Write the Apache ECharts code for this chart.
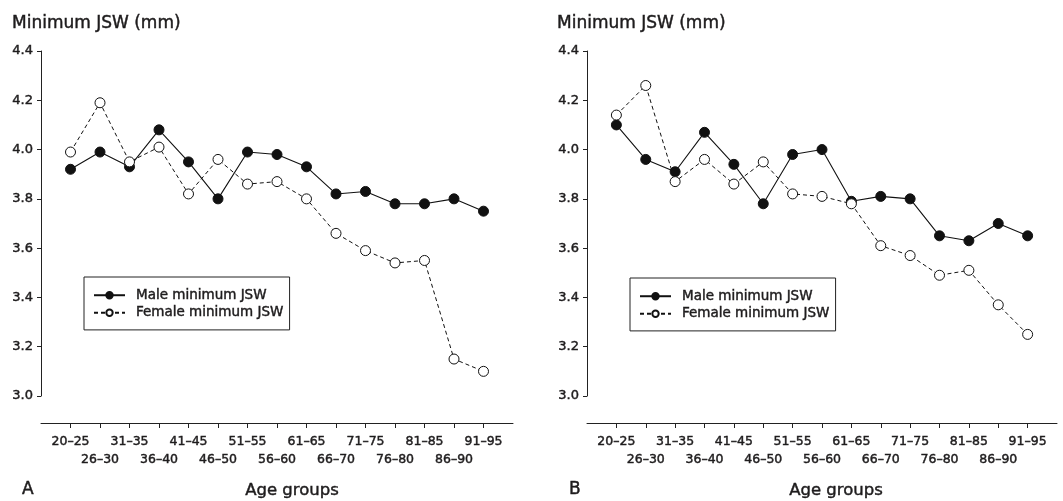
<!DOCTYPE html>
<html>
<head>
<meta charset="utf-8">
<script src="https://cdn.jsdelivr.net/npm/echarts@6/dist/echarts.min.js"></script>
<style>
html,body{margin:0;padding:0;background:#fff;}
#c{width:1063px;height:501px;}
</style>
</head>
<body>
<div id="c"></div>
<script>
// ---- data ----
const ageGroups = ['20–25','26–30','31–35','36–40','41–45','46–50','51–55','56–60','61–65','66–70','71–75','76–80','81–85','86–90','91–95'];
const maleA   = [3.92,3.99,3.93,4.08,3.95,3.80,3.99,3.98,3.93,3.82,3.83,3.78,3.78,3.80,3.75];
const femaleA = [3.99,4.19,3.95,4.01,3.82,3.96,3.86,3.87,3.80,3.66,3.59,3.54,3.55,3.15,3.10];
const maleB   = [4.10,3.96,3.91,4.07,3.94,3.78,3.98,4.00,3.79,3.81,3.80,3.65,3.63,3.70,3.65];
const femaleB = [4.14,4.26,3.87,3.96,3.86,3.95,3.82,3.81,3.78,3.61,3.57,3.49,3.51,3.37,3.25];
const yTicks = [3.0, 4.4, 0.2]; // min, max, step
const yTitle = 'Minimum JSW (mm)';
const xTitle = 'Age groups';
const panelLabels = ['A','B'];
const seriesNames = ['Male minimum JSW','Female minimum JSW'];

// ---- build ----
const FONT = 'DejaVu Sans';
const TXT = '#1e1c1d';
const TB = {textBorderColor:TXT, textBorderWidth:0.45};
const cats = [''].concat(ageGroups, ['']);
const pad = arr => [null].concat(arr, [null]);

function xAxisFor(i){
  return {
    type:'category', gridIndex:i, data:cats, boundaryGap:false, offset:27,
    axisLine:{show:true, lineStyle:{color:'#222', width:1}},
    axisTick:{show:true, length:5, lineStyle:{color:'#222'},
      interval:(idx)=> idx>0 && idx<cats.length-1},
    axisLabel:Object.assign({interval:0, margin:10, fontFamily:FONT, fontSize:12.5, color:TXT, lineHeight:18,
      formatter:(v,idx)=> (idx%2===1 ? v : '\n'+v)}, TB),
    splitLine:{show:false}
  };
}
function yAxisFor(i){
  return {
    type:'value', gridIndex:i, min:yTicks[0], max:yTicks[1], interval:yTicks[2],
    axisLine:{show:true, lineStyle:{color:'#222', width:1}},
    axisTick:{show:true, length:4, lineStyle:{color:'#222'}},
    axisLabel:Object.assign({margin:8, fontFamily:FONT, fontSize:13, color:TXT, formatter:v=>v.toFixed(1)}, TB),
    splitLine:{show:false}
  };
}
function maleSeries(i,data){
  return {name:seriesNames[0], type:'line', xAxisIndex:i, yAxisIndex:i, data:pad(data),
    symbol:'circle', symbolSize:10, z:2,
    lineStyle:{color:'#111', width:1.1, type:'solid'},
    itemStyle:{color:'#111', borderColor:'#111', borderWidth:1}};
}
function femaleSeries(i,data){
  return {name:seriesNames[1], type:'line', xAxisIndex:i, yAxisIndex:i, data:pad(data),
    symbol:'circle', symbolSize:10, z:3,
    lineStyle:{color:'#111', width:1, type:[4,3]},
    itemStyle:{color:'#fff', borderColor:'#111', borderWidth:1}};
}
function legendFor(left,top){
  return {data:seriesNames, orient:'vertical', left:left, top:top, padding:[11,6,10,9], itemGap:3,
    itemWidth:31, itemHeight:8, borderColor:'#222', borderWidth:1, selectedMode:false,
    textStyle:Object.assign({fontFamily:FONT, fontSize:13.5, color:TXT, lineHeight:14, padding:[0,0,0,6]}, TB)};
}
function txt(text,x,y,size,align){
  return {type:'text', x:x, y:y, style:{text:text, font:'normal '+size+'px "'+FONT+'"', fill:TXT,
    stroke:TXT, lineWidth:0.45,
    textAlign:align||'left', textVerticalAlign:'middle'}};
}

const option = {
  animation:false,
  backgroundColor:'#fff',
  grid:[
    {left:41, top:51, width:472, height:345},
    {left:587, top:51, width:470, height:345}
  ],
  xAxis:[xAxisFor(0), xAxisFor(1)],
  yAxis:[yAxisFor(0), yAxisFor(1)],
  legend:[legendFor(84,277), legendFor(630,278)],
  series:[maleSeries(0,maleA), femaleSeries(0,femaleA), maleSeries(1,maleB), femaleSeries(1,femaleB)],
  graphic:[
    txt(yTitle,12,24,17),
    txt(yTitle,557,24,17),
    txt(xTitle,292,491,16.5,'center'),
    txt(xTitle,836,491,16.5,'center'),
    txt(panelLabels[0],22,490,17),
    txt(panelLabels[1],569,490,17)
  ]
};
const chart = echarts.init(document.getElementById('c'), null, {renderer:'canvas'});
chart.setOption(option);
</script>
</body>
</html>
